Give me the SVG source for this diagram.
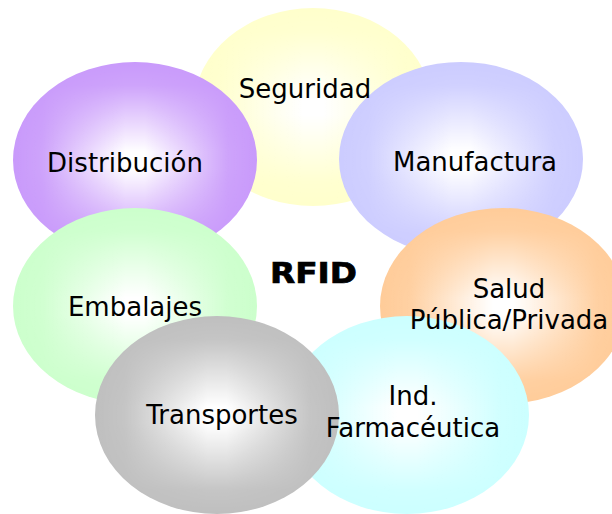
<svg xmlns="http://www.w3.org/2000/svg" width="612" height="514" viewBox="0 0 612 514">
  <defs>
    <linearGradient id="hx" x1="0" y1="0" x2="1" y2="0">
      <stop offset="0" stop-color="#fff" stop-opacity="0"/>
      <stop offset="0.12" stop-color="#fff" stop-opacity="0.1"/>
      <stop offset="0.46" stop-color="#fff" stop-opacity="1"/>
      <stop offset="0.54" stop-color="#fff" stop-opacity="1"/>
      <stop offset="0.88" stop-color="#fff" stop-opacity="0.1"/>
      <stop offset="1" stop-color="#fff" stop-opacity="0"/>
    </linearGradient>
    <linearGradient id="gv" x1="0" y1="0" x2="0" y2="1">
      <stop offset="0" stop-color="#000"/>
      <stop offset="0.12" stop-color="#1a1a1a"/>
      <stop offset="0.46" stop-color="#fff"/>
      <stop offset="0.54" stop-color="#fff"/>
      <stop offset="0.88" stop-color="#1a1a1a"/>
      <stop offset="1" stop-color="#000"/>
    </linearGradient>
    <mask id="mv" maskContentUnits="objectBoundingBox">
      <rect x="0" y="0" width="1" height="1" fill="url(#gv)"/>
    </mask>
  </defs>
  <style>
    .hl { fill: url(#hx); }
    .lbl { font-family: "DejaVu Sans", Verdana, sans-serif; font-size: 26px; fill: #000; text-anchor: middle; }
    .title { font-family: "DejaVu Sans", Verdana, sans-serif; font-size: 28px; font-weight: bold; fill: #000; stroke: #000; stroke-width: 0.7; }
  </style>
  <rect width="612" height="514" fill="#fff"/>

  <g id="seguridad">
    <ellipse cx="313" cy="107" rx="119" ry="99" fill="#FFFFCC"/>
    <ellipse class="hl" cx="313" cy="107" rx="119" ry="99" mask="url(#mv)"/>
  </g>
  <g id="distribucion">
    <ellipse cx="135" cy="160" rx="122" ry="98" fill="#C99AFB"/>
    <ellipse class="hl" cx="135" cy="160" rx="122" ry="98" mask="url(#mv)"/>
  </g>
  <g id="manufactura">
    <ellipse cx="461" cy="159" rx="122" ry="97" fill="#CCCCFF"/>
    <ellipse class="hl" cx="461" cy="159" rx="122" ry="97" mask="url(#mv)"/>
  </g>
  <g id="embalajes">
    <ellipse cx="135" cy="306" rx="122" ry="98" fill="#CCFFCC"/>
    <ellipse class="hl" cx="135" cy="306" rx="122" ry="98" mask="url(#mv)"/>
  </g>
  <g id="salud">
    <ellipse cx="503" cy="306" rx="123" ry="98" fill="#FFCC99"/>
    <ellipse class="hl" cx="503" cy="306" rx="123" ry="98" mask="url(#mv)"/>
  </g>
  <g id="farmaceutica">
    <ellipse cx="407" cy="415" rx="122" ry="99" fill="#CCFFFF"/>
    <ellipse class="hl" cx="407" cy="415" rx="122" ry="99" mask="url(#mv)"/>
  </g>
  <g id="transportes">
    <ellipse cx="217" cy="415" rx="122" ry="99" fill="#BFBFBF"/>
    <ellipse class="hl" cx="217" cy="415" rx="122" ry="99" mask="url(#mv)"/>
  </g>

  <g id="labels">
    <text class="lbl" x="305" y="98">Seguridad</text>
    <text class="lbl" x="125" y="172">Distribución</text>
    <text class="lbl" x="475" y="171">Manufactura</text>
    <text class="lbl" x="135" y="316">Embalajes</text>
    <text class="lbl" x="509" y="298">Salud</text>
    <text class="lbl" x="509" y="329">Pública/Privada</text>
    <text class="lbl" x="413" y="405">Ind.</text>
    <text class="lbl" x="413" y="437">Farmacéutica</text>
    <text class="lbl" x="222" y="424">Transportes</text>
  </g>
  <g id="rfid">
    <text class="title" transform="translate(270 283) scale(1.17 1)" x="0" y="0">RFID</text>
  </g>
</svg>
